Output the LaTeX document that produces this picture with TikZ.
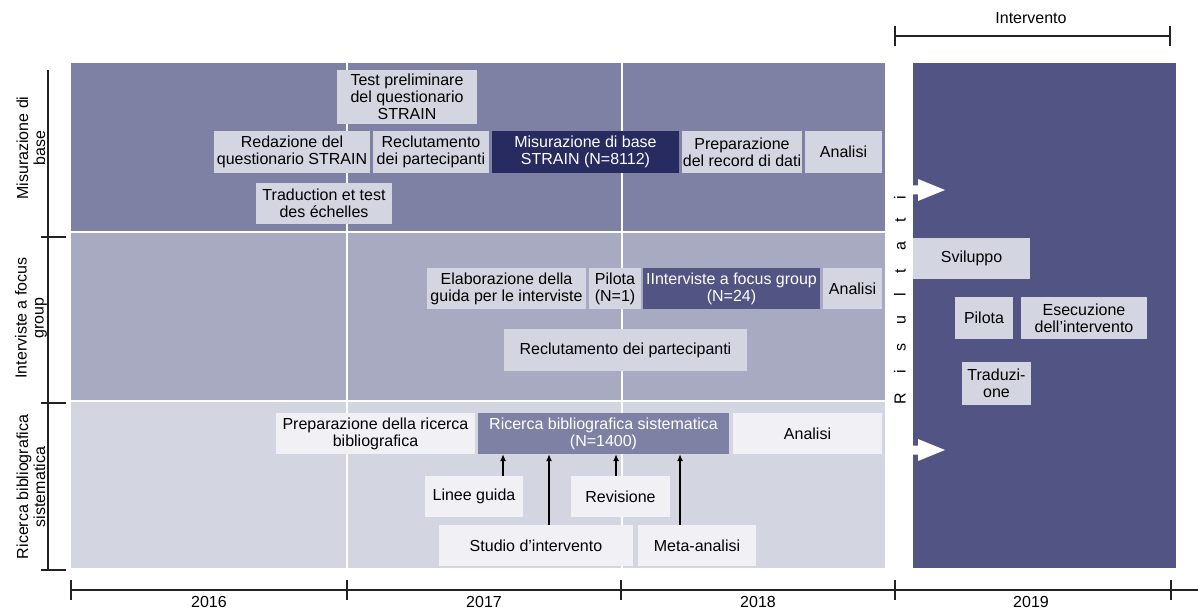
\documentclass[tikz,border=0pt]{standalone}
\usepackage{fontspec}
\setmainfont{Liberation Sans}
\usetikzlibrary{arrows.meta}
\definecolor{rowA}{HTML}{7E81A3}
\definecolor{rowB}{HTML}{A8AAC2}
\definecolor{rowC}{HTML}{D3D5E1}
\definecolor{panelR}{HTML}{525583}
\definecolor{boxL}{HTML}{D3D5E1}
\definecolor{boxW}{HTML}{F1F1F5}
\definecolor{boxD}{HTML}{272B60}
\definecolor{axisc}{HTML}{222222}
\newcommand\fs{\fontsize{16}{17}\selectfont}
\begin{document}
\begin{tikzpicture}[x=1pt,y=-1pt,
  bx/.style={inner sep=0pt, align=center, font=\fs, text=black},
  lbox/.style={bx, fill=boxL},
  wbox/.style={bx, fill=boxW},
  dbox/.style={bx, fill=boxD, text=white},
  arr/.style={-{Latex[length=7pt,width=6pt]}, line width=1.2pt, black},
  axisline/.style={line width=1.3pt, axisc},
  lbl/.style={font=\fs, align=center, inner sep=0pt}]
\useasboundingbox (0,0) rectangle (1198,609);
\fill[white] (0,0) rectangle (1198,609);
% background rows
\fill[rowA] (71,63) rectangle (885,231);
\fill[rowB] (71,233) rectangle (885,400);
\fill[rowC] (71,402) rectangle (885,568);
\draw[white, line width=1.6pt] (347,63) -- (347,568);
\draw[white, line width=1.6pt] (622,63) -- (622,568);
\fill[panelR] (913,63) rectangle (1176,568);
% left axis
\draw[axisline] (48,70) -- (48,570);
\foreach \yy in {237,403,570} \draw[axisline] (41,\yy) -- (66,\yy);
\node[lbl, rotate=90] (labA) at (31,148) {Misurazione di\\base};
\node[lbl, rotate=90] (labB) at (31,318) {Interviste a focus\\group};
\node[lbl, rotate=90] (labC) at (31,487) {Ricerca bibliografica\\sistematica};
% bottom axis
\draw[axisline] (71,590) -- (1198,590);
\foreach \xx in {71,347,621,895,1171} \draw[axisline] (\xx,580) -- (\xx,600);
\node[lbl] (y16) at (209,602) {2016};
\node[lbl] (y17) at (484,602) {2017};
\node[lbl] (y18) at (758,602) {2018};
\node[lbl] (y19) at (1031,602) {2019};
% top bracket
\node[lbl] (interv) at (1031,18) {Intervento};
\draw[axisline] (895,36) -- (1170,36);
\draw[axisline] (895,26) -- (895,46);
\draw[axisline] (1170,26) -- (1170,46);
% Risultati
\node[lbl, rotate=90] (ris) at (900,300) {\spaceskip=19pt R i s u l t a t i};
% white arrows
\fill[white] (912,185.5) -- (918,185.5) -- (918,179) -- (945,190) -- (918,201) -- (918,194.5) -- (912,194.5) -- cycle;
\fill[white] (912,445.5) -- (918,445.5) -- (918,439) -- (945,450) -- (918,461) -- (918,454.5) -- (912,454.5) -- cycle;
% Row 1
\node[lbox, minimum width=140pt, minimum height=54pt] (test) at (407,97) {Test preliminare\\del questionario\\STRAIN};
\node[lbox, minimum width=156pt, minimum height=42pt] (redaz) at (292,152) {Redazione del\\questionario STRAIN};
\node[lbox, minimum width=116pt, minimum height=42pt] (reclA) at (431,152) {Reclutamento\\dei partecipanti};
\node[dbox, minimum width=187pt, minimum height=42pt] (misur) at (585.5,152) {Misurazione di base\\STRAIN (N=8112)};
\node[lbox, minimum width=120pt, minimum height=42pt] (prep) at (742,152) {Preparazione\\del record di dati};
\node[lbox, minimum width=77pt, minimum height=42pt] (anA) at (843.5,152) {Analisi};
\node[lbox, minimum width=136pt, minimum height=41pt] (trad) at (324,203.5) {Traduction et test\\des échelles};
% Row 2
\node[lbox, minimum width=159pt, minimum height=41pt] (elab) at (506.5,288.5) {Elaborazione della\\guida per le interviste};
\node[lbox, minimum width=52pt, minimum height=41pt] (pil) at (615,288.5) {Pilota\\(N=1)};
\node[bx, fill=panelR, text=white, minimum width=177pt, minimum height=41pt] (intf) at (731.5,288.5) {IInterviste a focus group\\(N=24)};
\node[lbox, minimum width=59pt, minimum height=41pt] (anB) at (852.5,288.5) {Analisi};
\node[lbox, minimum width=243pt, minimum height=42pt] (reclB) at (625.5,350) {Reclutamento dei partecipanti};
% Row 3
\node[wbox, minimum width=199pt, minimum height=41pt] (prepr) at (375.5,433.5) {Preparazione della ricerca\\bibliografica};
\node[bx, fill=rowA, text=white, minimum width=251pt, minimum height=41pt] (ric) at (603.5,433.5) {Ricerca bibliografica sistematica\\(N=1400)};
\node[wbox, minimum width=149pt, minimum height=41pt] (anC) at (807.5,433.5) {Analisi};
\node[wbox, minimum width=98pt, minimum height=41pt] (linee) at (474,496.5) {Linee guida};
\node[wbox, minimum width=99pt, minimum height=41pt] (rev) at (620.5,496.5) {Revisione};
\node[wbox, minimum width=194pt, minimum height=41pt] (studio) at (536,545.5) {Studio d’intervento};
\node[wbox, minimum width=118pt, minimum height=41pt] (meta) at (697,545.5) {Meta-analisi};
\draw[arr] ([xshift=29pt]linee.north) -- ([xshift=29pt]linee.north |- ric.south);
\draw[arr] ([xshift=13pt]studio.north) -- ([xshift=13pt]studio.north |- ric.south);
\draw[arr] ([xshift=-4.5pt]rev.north) -- ([xshift=-4.5pt]rev.north |- ric.south);
\draw[arr] ([xshift=-17pt]meta.north) -- ([xshift=-17pt]meta.north |- ric.south);
% Right panel
\node[lbox, minimum width=117pt, minimum height=41pt] (svil) at (971.5,258.5) {Sviluppo};
\node[lbox, minimum width=58pt, minimum height=42pt] (pilR) at (984,318) {Pilota};
\node[lbox, minimum width=126pt, minimum height=42pt] (esec) at (1084,318) {Esecuzione\\dell’intervento};
\node[lbox, minimum width=69pt, minimum height=43pt] (tradR) at (996.5,383.5) {Traduzi-\\one};
\end{tikzpicture}
\end{document}
